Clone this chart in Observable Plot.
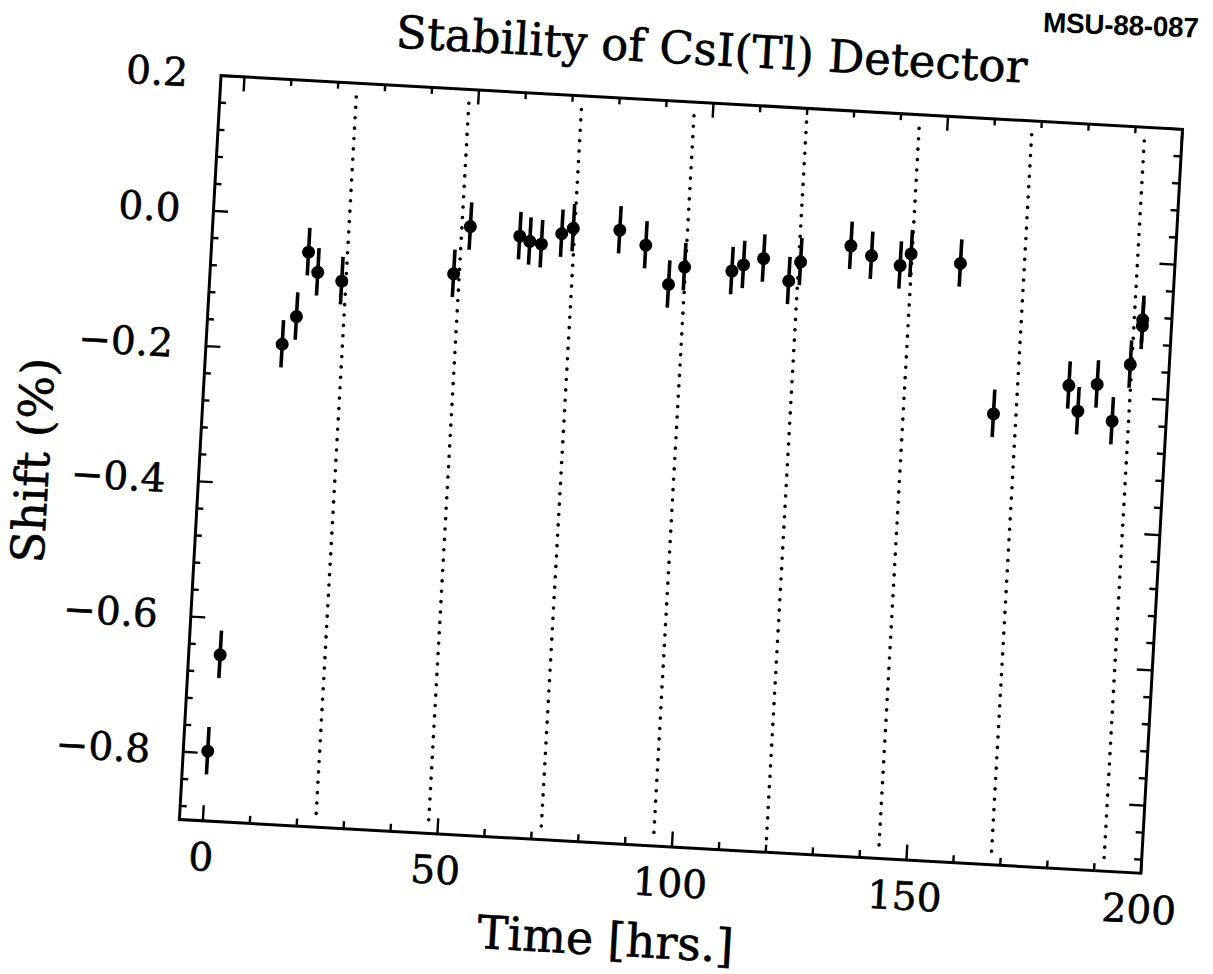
<!DOCTYPE html>
<html>
<head>
<meta charset="utf-8">
<script src="https://cdn.jsdelivr.net/npm/d3@7"></script>
<script src="https://cdn.jsdelivr.net/npm/@observablehq/plot@0.6"></script>
<style>
  html, body { margin: 0; padding: 0; background: #fff; overflow: hidden; }
  #page { position: relative; width: 1213px; height: 974px; background: #fff; }
  #fig { position: absolute; left: 0; top: 0; width: 1213px; height: 974px;
         transform: rotate(3.2deg); transform-origin: 680.5px 473.9px; }
  #chart { position: absolute; left: 0; top: 60px; z-index: 1; }
  #title { position: absolute; left: 88px; width: 1200px; top: 26px; text-align: center; z-index: 2;
           font-family: "DejaVu Serif", serif; font-size: 45px; line-height: 45px; color: #000;
           -webkit-text-stroke: 0.6px #000; }
  #chart svg text { stroke: #000; stroke-width: 0.6px; }
  #stamp { position: absolute; left: 1043px; top: 8px; font-family: "Liberation Sans", Arial, sans-serif;
           font-weight: bold; font-size: 28px; line-height: 30px; color: #000; letter-spacing: -0.3px;
           transform: rotate(2deg); transform-origin: left center; }
</style>
</head>
<body>
<div id="page">
  <div id="fig">
    <div id="chart"></div>
    <div id="title">Stability of CsI(Tl) Detector</div>
  </div>
  <div id="stamp">MSU-88-087</div>
</div>
<script>
// ---- data ----
const time = [0.2, 1.7, 11.2, 13.9, 15.7, 17.9, 23.1, 46.8, 49.8, 60.4, 62.6, 65.1, 69.3, 71.7,
  81.6, 87.3, 92.6, 95.8, 105.9, 108.3, 112.5, 118.1, 120.4, 130.9, 135.4, 141.6, 143.8, 154.4,
  163.2, 178.9, 181.1, 184.9, 188.5, 191.7, 193.8, 193.8];
const shift = [-0.797, -0.654, -0.191, -0.149, -0.053, -0.082, -0.093, -0.073, -0.002, -0.012,
  -0.019, -0.022, -0.005, 0.004, 0.005, -0.015, -0.071, -0.044, -0.046, -0.036, -0.025, -0.056,
  -0.027, 0.001, -0.012, -0.024, -0.006, -0.016, -0.235, -0.187, -0.224, -0.183, -0.236, -0.151,
  -0.084, -0.093];
const shiftErr = [0.035, 0.035, 0.035, 0.035, 0.035, 0.035, 0.035, 0.035, 0.035, 0.035, 0.035,
  0.035, 0.035, 0.035, 0.035, 0.035, 0.035, 0.035, 0.035, 0.035, 0.035, 0.035, 0.035, 0.035,
  0.035, 0.035, 0.035, 0.035, 0.035, 0.035, 0.035, 0.035, 0.035, 0.035, 0.035, 0.035];
const dayMarks = [24, 48, 72, 96, 120, 144, 168, 192];   // dotted lines (hrs)
const dayLineTop = 0.179, dayLineBottom = -0.887;

const xMajor = [0, 50, 100, 150, 200];
const xMinor = [10, 20, 30, 40, 60, 70, 80, 90, 110, 120, 130, 140, 160, 170, 180, 190];
const yMajor = [0.2, 0.0, -0.2, -0.4, -0.6, -0.8];
const yMinor = [0.16, 0.12, 0.08, 0.04, -0.04, -0.08, -0.12, -0.16, -0.24, -0.28, -0.32, -0.36,
  -0.44, -0.48, -0.52, -0.56, -0.64, -0.68, -0.72, -0.76, -0.84, -0.88];
const xDomain = [-5, 200];
const yDomain = [-0.9, 0.2];
const titleX = "Time [hrs.]";
const titleY = "Shift (%)";

const points = time.map((t, i) => ({t, s: shift[i], e: shiftErr[i]}));

// ---- layout ----
const W = 1213, H = 914;
const mL = 199, mR = 51, mT = 41.4, mB = 127.6;
const iW = W - mL - mR, iH = H - mT - mB;
const majorLen = 15, minorLen = 7;
const font = "DejaVu Serif";

const chart = Plot.plot({
  width: W, height: H,
  marginLeft: mL, marginRight: mR, marginTop: mT, marginBottom: mB,
  x: {domain: xDomain, axis: null},
  y: {domain: yDomain, axis: null},
  style: {fontFamily: font, fontSize: "39px", color: "#000", background: "transparent"},
  marks: [
    // dotted day lines
    Plot.ruleX(dayMarks, {x: d => d, y1: () => dayLineTop, y2: () => dayLineBottom,
      stroke: "#000", strokeWidth: 3.6, strokeLinecap: "round", strokeDasharray: "0 10.4"}),
    // inward ticks: bottom / top
    Plot.ruleX(xMajor, {x: d => d, insetTop: iH - majorLen, stroke: "#000", strokeWidth: 2.4}),
    Plot.ruleX(xMinor, {x: d => d, insetTop: iH - minorLen, stroke: "#000", strokeWidth: 2.4}),
    Plot.ruleX(xMajor, {x: d => d, insetBottom: iH - majorLen, stroke: "#000", strokeWidth: 2.4}),
    Plot.ruleX(xMinor, {x: d => d, insetBottom: iH - minorLen, stroke: "#000", strokeWidth: 2.4}),
    // inward ticks: left / right
    Plot.ruleY(yMajor, {y: d => d, insetRight: iW - majorLen, stroke: "#000", strokeWidth: 2.4}),
    Plot.ruleY(yMinor, {y: d => d, insetRight: iW - minorLen, stroke: "#000", strokeWidth: 2.4}),
    Plot.ruleY(yMajor, {y: d => d, insetLeft: iW - majorLen, stroke: "#000", strokeWidth: 2.4}),
    Plot.ruleY(yMinor, {y: d => d, insetLeft: iW - minorLen, stroke: "#000", strokeWidth: 2.4}),
    Plot.frame({stroke: "#000", strokeWidth: 3}),
    // tick labels
    Plot.axisX(xMajor, {anchor: "bottom", tickSize: 0, tickPadding: 22, label: null,
      tickFormat: d3.format("d"), fill: "#000"}),
    Plot.axisY(yMajor, {anchor: "left", tickSize: 0, tickPadding: 33, label: null,
      tickFormat: d3.format(".1f"), fill: "#000"}),
    // axis titles
    Plot.text([titleX], {text: d => d, frameAnchor: "bottom", textAnchor: "middle", lineAnchor: "middle",
      dy: 97, dx: -49.5, fontSize: 46, fill: "#000"}),
    Plot.text([titleY], {text: d => d, frameAnchor: "left", textAnchor: "middle", lineAnchor: "middle",
      dx: -165, dy: 22, rotate: -90, fontSize: 46, fill: "#000"}),
    // data with error bars
    Plot.ruleX(points, {x: "t", y1: d => d.s - d.e, y2: d => d.s + d.e, stroke: "#000", strokeWidth: 3.6}),
    Plot.dot(points, {x: "t", y: "s", r: 6.5, fill: "#000", stroke: "none"})
  ]
});
document.getElementById("chart").appendChild(chart);
</script>
</body>
</html>
